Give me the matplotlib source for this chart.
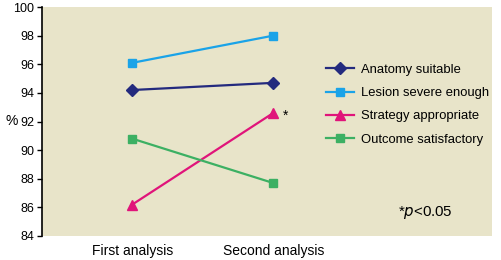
import matplotlib
matplotlib.use("Agg")
import matplotlib.pyplot as plt

categories = ["First analysis", "Second analysis"]
series_names = ["Anatomy suitable", "Lesion severe enough", "Strategy appropriate", "Outcome satisfactory"]
anatomy = [94.2, 94.7]
lesion = [96.1, 98.0]
strategy = [86.2, 92.6]
outcome = [90.8, 87.7]
yticks = [84, 86, 88, 90, 92, 94, 96, 98, 100]

colors = ["#232a7e", "#1aa3e8", "#e0147a", "#3cb063"]
markers = ["D", "s", "^", "s"]
msizes = [6, 6, 7, 6]

plt.rcParams['font.family'] = ['Liberation Sans', 'DejaVu Sans']

fig = plt.figure(figsize=(5.02, 2.6), dpi=100)
ax = fig.add_axes([42/502, 1 - 236/260, (492-42)/502, (236-7)/260])
ax.set_facecolor("#e8e4c9")

x = list(range(len(categories)))
for vals, name, c, m, ms in zip([anatomy, lesion, strategy, outcome], series_names, colors, markers, msizes):
    ax.plot(x, vals, color=c, marker=m, markersize=ms, lw=1.6, label=name)

ax.set_xlim(-0.64, 2.55)
ax.set_ylim(84, 100)
ax.set_yticks(yticks)
ax.set_yticklabels([str(t) for t in yticks], fontsize=9)
ax.set_xticks(x)
ax.set_xticklabels(categories, fontsize=10)
ax.tick_params(axis='x', length=0, pad=6)
ax.tick_params(axis='y', length=3.5, width=1, direction='out', pad=2)
for s in ["top", "right", "bottom"]:
    ax.spines[s].set_visible(False)
ax.spines["left"].set_linewidth(1.2)

ax.set_ylabel("%", rotation=0, fontsize=10, va='center', ha='center')
ax.yaxis.set_label_coords((12 - 42) / 450, (236 - 121) / 229)

ax.text(1.07, 92.4, "*", fontsize=10, va='center', ha='left')
ax.text(1.885, 85.66, "*$p$<0.05", fontsize=10.8, ha='left', va='center')

leg = ax.legend(loc='upper left', bbox_to_anchor=(0.62, 0.775), frameon=False,
                fontsize=9.4, handlelength=2.1, handletextpad=0.6, labelspacing=0.85,
                borderaxespad=0)

fig.savefig("out.png", dpi=100)
